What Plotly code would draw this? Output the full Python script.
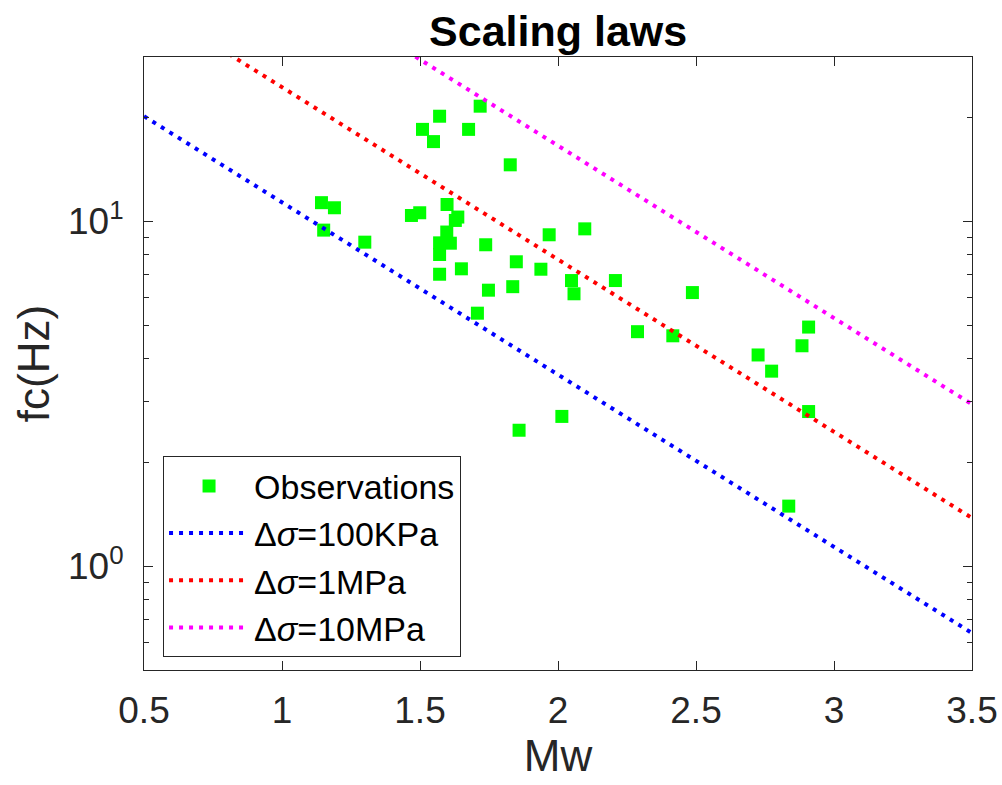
import plotly.graph_objects as go

# Observations (Mw, corner frequency in Hz)
mw_obs = [1.718, 1.571, 1.509, 1.676, 1.549, 1.827, 1.143, 1.190, 1.598, 1.469,
          1.499, 1.637, 1.628, 1.151, 1.300, 1.597, 1.571, 1.610, 1.571, 1.738,
          1.849, 1.571, 1.650, 1.748, 1.836, 1.708, 2.097, 1.968, 2.049, 2.058,
          2.208, 2.487, 2.288, 2.416, 2.908, 2.884, 2.725, 2.774, 2.908, 2.014,
          1.938, 1.859, 2.836]
fc_obs = [21.6, 20.2, 18.5, 18.5, 17.05, 14.6, 11.34, 10.96, 11.2, 10.41,
          10.6, 10.3, 10.07, 9.44, 8.71, 9.32, 8.67, 8.65, 8.02, 8.56,
          7.64, 7.03, 7.29, 6.32, 6.47, 5.42, 9.52, 9.15, 6.74, 6.17,
          6.74, 6.22, 4.79, 4.66, 4.94, 4.36, 4.10, 3.68, 2.81, 2.72,
          7.27, 2.48, 1.494]

# Scaling-law lines (end points)
line_mw = [0.5, 3.5]
fc_100kpa = [20.2, 0.64]
fc_1mpa = [43.6, 1.38]
fc_10mpa = [93.3, 2.95]

FONT = "Liberation Sans, Arial, Helvetica, sans-serif"
AX = "#262626"

fig = go.Figure()
fig.add_trace(go.Scatter(x=mw_obs, y=fc_obs, mode="markers", name="Observations",
                         marker=dict(symbol="square", size=13, color="#00ff00",
                                     line=dict(width=0))))
for name, ys, col in [("Δ<i>σ</i>=100KPa", fc_100kpa, "#0000ff"),
                      ("Δ<i>σ</i>=1MPa", fc_1mpa, "#ff0000"),
                      ("Δ<i>σ</i>=10MPa", fc_10mpa, "#ff00ff")]:
    fig.add_trace(go.Scatter(x=line_mw, y=ys, mode="lines", name=name,
                             line=dict(color=col, width=4, dash="4px,6px")))

fig.update_layout(
    width=1002, height=785,
    margin=dict(l=144, r=30, t=57, b=115),
    paper_bgcolor="white", plot_bgcolor="white",
    font=dict(family=FONT, color="#262626"),
    title=dict(text="<b>Scaling laws</b>", x=0.557, xanchor="center",
               y=1 - 31 / 785, yanchor="middle",
               font=dict(size=43, color="black", family=FONT)),
    showlegend=True,
    legend=dict(x=0.023, y=0.3486, xanchor="left", yanchor="top",
                bgcolor="white", bordercolor="#262626", borderwidth=1,
                font=dict(size=34, color="black", family=FONT),
                itemwidth=80, tracegroupgap=0),
)
fig.update_xaxes(range=[0.5, 3.5], dtick=0.5, tick0=0.5, automargin=False,
                 showline=True, linecolor=AX, linewidth=1, mirror="ticks",
                 ticks="inside", ticklen=9, tickcolor=AX, showgrid=False, zeroline=False,
                 tickfont=dict(size=37, color="#262626"), ticklabelstandoff=8,
                 title=dict(text="Mw", font=dict(size=44, color="#262626"), standoff=6))
fig.update_yaxes(type="log", range=[-0.30103, 1.47712], automargin=False,
                 tickvals=[1, 10], ticktext=["10<sup>0</sup>", "10<sup>1</sup>"],
                 showline=True, linecolor=AX, linewidth=1, mirror="ticks",
                 ticks="inside", ticklen=9, tickcolor=AX, showgrid=False, zeroline=False,
                 tickfont=dict(size=37, color="#262626"), ticklabelstandoff=12,
                 minor=dict(tickvals=[0.5, 0.6, 0.7, 0.8, 0.9, 2, 3, 4, 5, 6, 7, 8, 9, 20, 30],
                            ticks="inside", ticklen=5, tickcolor=AX, showgrid=False),
                 title=dict(text="fc(Hz)", font=dict(size=44, color="#262626"), standoff=4))

fig.write_html("out.html")
